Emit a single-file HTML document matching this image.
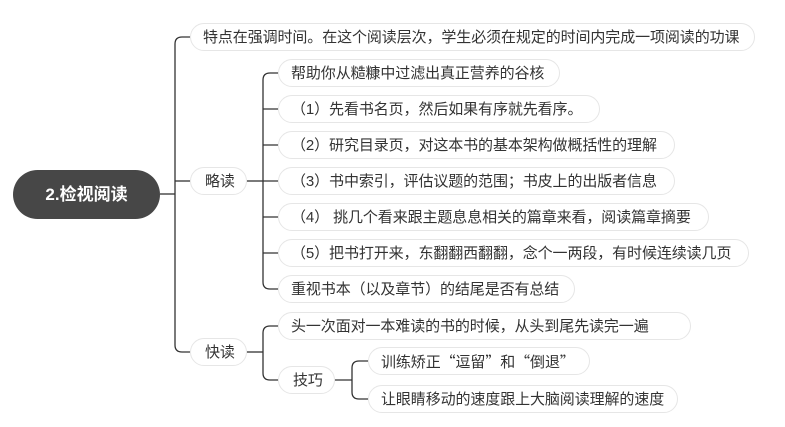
<!DOCTYPE html>
<html><head><meta charset="utf-8"><style>
body{margin:0;width:785px;height:427px;background:#fff;position:relative;overflow:hidden;font-family:"Liberation Sans","Noto Sans CJK SC",sans-serif;}
.n{position:absolute;height:28px;line-height:28px;border:1px solid #e6e6e6;border-radius:15px;background:#fff;color:#333;font-size:15px;white-space:nowrap;box-sizing:border-box;padding-left:12px;letter-spacing:-0.1px}
.q{font-family:"Noto Sans CJK SC",sans-serif;}
.root{position:absolute;left:13px;top:170px;width:147px;height:49px;border-radius:25px;background:#474747;color:#fff;font-weight:bold;font-size:17px;line-height:49px;text-align:center;}
svg{position:absolute;left:0;top:0}
</style></head><body>
<svg width="785" height="427" fill="none" stroke="#333" stroke-width="1.3">
<path d="M160 194H175"/>
<path d="M190 37H182Q175 37 175 44V345Q175 352 182 352H190"/>
<path d="M175 181H190"/>
<path d="M247 181H263"/>
<path d="M278 73H270Q263 73 263 80V282Q263 289 270 289H278"/>
<path d="M263 109H278M263 145H278M263 181H278M263 217H278M263 253H278"/>
<path d="M247 352H263"/>
<path d="M278 326H270Q263 326 263 333V373Q263 380 270 380H278"/>
<path d="M335 380H352"/>
<path d="M368 361H359Q352 361 352 368V392Q352 399 359 399H368"/>
</svg>
<div class="root">2.检视阅读</div>
<div class="n" style="left:190px;top:23px;width:565px">特点在强调时间。在这个阅读层次，学生必须在规定的时间内完成一项阅读的功课</div>
<div class="n" style="left:190px;top:167px;width:57px;padding-left:14px">略读</div>
<div class="n" style="left:278px;top:59px;width:282px">帮助你从糙糠中过滤出真正营养的谷核</div>
<div class="n" style="left:278px;top:95px;width:322px">（1）先看书名页，然后如果有序就先看序。</div>
<div class="n" style="left:278px;top:131px;width:397px">（2）研究目录页，对这本书的基本架构做概括性的理解</div>
<div class="n" style="left:278px;top:167px;width:397px">（3）书中索引，评估议题的范围；书皮上的出版者信息</div>
<div class="n" style="left:278px;top:203px;width:431px">（4） 挑几个看来跟主题息息相关的篇章来看，阅读篇章摘要</div>
<div class="n" style="left:278px;top:239px;width:471px">（5）把书打开来，东翻翻西翻翻，念个一两段，有时候连续读几页</div>
<div class="n" style="left:278px;top:275px;width:297px">重视书本（以及章节）的结尾是否有总结</div>
<div class="n" style="left:190px;top:338px;width:57px;padding-left:14px">快读</div>
<div class="n" style="left:278px;top:312px;width:413px">头一次面对一本难读的书的时候，从头到尾先读完一遍</div>
<div class="n" style="left:278px;top:366px;width:57px;padding-left:14px">技巧</div>
<div class="n" style="left:368px;top:347px;width:222px">训练矫正<span class="q">“</span>逗留<span class="q">”</span>和<span class="q">“</span>倒退<span class="q">”</span></div>
<div class="n" style="left:368px;top:385px;width:310px">让眼睛移动的速度跟上大脑阅读理解的速度</div>
</body></html>
